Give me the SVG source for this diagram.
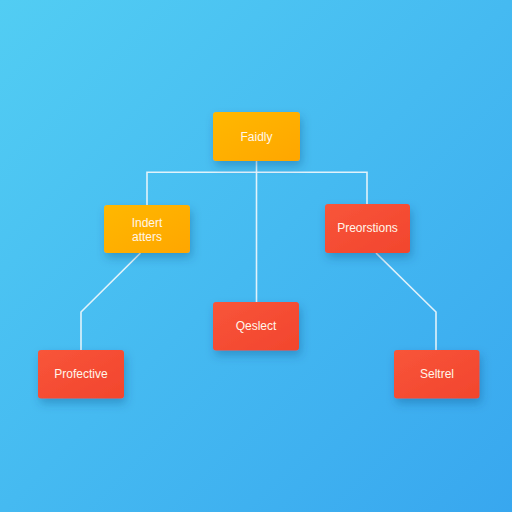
<svg xmlns="http://www.w3.org/2000/svg" width="512" height="512" viewBox="0 0 512 512">
  <defs>
    <linearGradient id="bg" x1="0" y1="0" x2="1" y2="1">
      <stop offset="0" stop-color="#52cdf3"/>
      <stop offset="1" stop-color="#38a7ef"/>
    </linearGradient>
    <linearGradient id="gOrange" x1="0" y1="0" x2="1" y2="1">
      <stop offset="0" stop-color="#ffb805"/>
      <stop offset="1" stop-color="#ffa600"/>
    </linearGradient>
    <linearGradient id="gRed" x1="0" y1="0" x2="1" y2="1">
      <stop offset="0" stop-color="#f8553a"/>
      <stop offset="1" stop-color="#f2452d"/>
    </linearGradient>
    <filter id="sh" x="-40%" y="-40%" width="180%" height="200%">
      <feDropShadow dx="2" dy="5" stdDeviation="5" flood-color="#0a3f78" flood-opacity="0.3"/>
    </filter>
  </defs>
  <style>
    .conn { fill: none; stroke: #f2f8fc; stroke-width: 1.6; stroke-linejoin: miter; opacity: 0.9; }
    .box { filter: url(#sh); }
    .or { fill: url(#gOrange); }
    .rd { fill: url(#gRed); }
    .lbl { font-family: "Liberation Sans", Arial, sans-serif; font-size: 12px; fill: #fff6ea; text-anchor: middle; dominant-baseline: central; }
  </style>
  <rect width="512" height="512" fill="url(#bg)"/>
  <g id="connectors">
    <path class="conn" d="M256.5,161 V302"/>
    <path class="conn" d="M147,205 V172.3 H367 V204"/>
    <path class="conn" d="M140.5,253 L81,312 V350"/>
    <path class="conn" d="M376,253 L436,312 V350"/>
  </g>
  <g id="node-faidly">
    <rect class="box or" x="213" y="112" width="87" height="49" rx="3"/>
    <text class="lbl" x="256.5" y="137">Faidly</text>
  </g>
  <g id="node-indert">
    <rect class="box or" x="104" y="205" width="86" height="48" rx="3"/>
    <text class="lbl" x="147" y="222.5">Indert</text>
    <text class="lbl" x="147" y="236.5">atters</text>
  </g>
  <g id="node-preorstions">
    <rect class="box rd" x="325" y="204" width="85" height="49" rx="3"/>
    <text class="lbl" x="367.5" y="228">Preorstions</text>
  </g>
  <g id="node-qeslect">
    <rect class="box rd" x="213" y="302" width="86" height="48.5" rx="3"/>
    <text class="lbl" x="256" y="326">Qeslect</text>
  </g>
  <g id="node-profective">
    <rect class="box rd" x="38" y="350" width="86" height="48.5" rx="3"/>
    <text class="lbl" x="81" y="374">Profective</text>
  </g>
  <g id="node-seltrel">
    <rect class="box rd" x="394" y="350" width="85.5" height="48.5" rx="3"/>
    <text class="lbl" x="437" y="374">Seltrel</text>
  </g>
</svg>
